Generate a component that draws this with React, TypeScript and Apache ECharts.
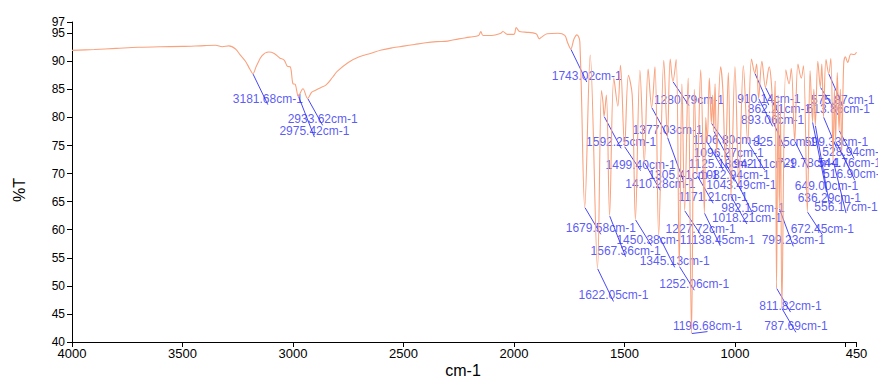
import React, { useEffect, useRef } from 'react';
import * as echarts from 'echarts';

// Baseline / shoulder points of the spectrum (wavenumber, %T)
const BG_WN = [
  4000, 3900, 3800, 3700, 3600, 3500, 3400, 3350, 3320, 3290, 3260, 3240, 3215, 3195, 3165, 3140, 3110, 3085,
  3060, 3040, 3025, 3012, 3000, 2990, 2955, 2915, 2900, 2875, 2850, 2820, 2800, 2750, 2700, 2650, 2600, 2550,
  2500, 2450, 2400, 2350, 2300, 2250, 2200, 2160, 2150, 2140, 2100, 2060, 2050, 2030, 2000, 1990, 1975, 1950,
  1900, 1885, 1875, 1850, 1800, 1770, 1758, 1728, 1715, 1702, 1655, 1604, 1597, 1582, 1548, 1530, 1518, 1482,
  1465, 1430, 1393, 1362, 1322, 1293, 1266, 1240, 1212, 1184, 1155, 1132, 1116, 1101, 1090, 1065, 1055, 1030,
  1000, 962, 925, 902, 878, 845, 835, 818, 805, 794, 770, 755, 745, 715, 700, 690, 660, 643, 625, 607, 588, 566,
  550, 537, 523, 508, 500, 490, 475, 460, 450,
];
const BG_T = [
  91.95, 92.1, 92.3, 92.5, 92.6, 92.65, 92.8, 92.85, 92.6, 92.75, 92.2, 91.2, 90.0, 88.6, 89.2, 91.0, 91.65, 91.4,
  90.6, 90.2, 89.1, 89.0, 86.0, 85.9, 85.1, 84.5, 84.8, 85.3, 85.8, 87.2, 88.2, 89.8, 90.8, 91.4, 92.0, 92.4,
  92.7, 93.0, 93.3, 93.5, 93.6, 94.0, 94.3, 94.6, 95.3, 94.6, 94.6, 95.0, 95.3, 94.8, 94.8, 96.0, 95.3, 95.2,
  94.9, 94.0, 94.3, 94.9, 95.0, 94.6, 93.4, 94.0, 94.7, 93.5, 91.1, 84.8, 82.6, 84.0, 87.0, 82.0, 89.3, 87.5,
  84.0, 88.4, 88.6, 89.0, 90.2, 90.4, 90.3, 86.0, 87.0, 85.0, 88.5, 80.0, 87.0, 84.0, 86.0, 89.0, 85.0, 88.0,
  89.0, 89.2, 90.4, 89.5, 90.0, 89.0, 86.0, 86.5, 84.0, 82.0, 88.5, 86.0, 88.7, 89.5, 87.0, 89.2, 88.3, 85.0, 90.0, 89.5, 90.3, 90.5,
  85.0, 88.0, 85.0, 89.5, 90.8, 89.8, 91.3, 91.2, 91.6,
];

// Labelled absorption peaks (wavenumber, %T)
const PEAK_WN = [
  3181.68, 2975.42, 2933.62, 1743.02, 1679.58, 1622.05, 1592.25, 1567.36, 1499.4, 1450.38, 1410.28, 1377.03,
  1345.13, 1305.41, 1280.79, 1252.06, 1227.72, 1196.68, 1171.21, 1138.45, 1125.18, 1106.8, 1096.27, 1082.94,
  1043.49, 1018.21, 982.15, 942.11, 910.14, 893.06, 862.21, 825.15, 811.82, 799.23, 787.69, 729.78, 672.45,
  649.0, 636.29, 613.86, 599.33, 575.87, 556.17, 544.76, 528.94, 516.9,
];
const PEAK_T = [
  87.8, 83.8, 83.4, 92.2, 64.0, 53.1, 80.2, 62.5, 74.8, 61.8, 72.0, 81.8,
  59.0, 76.5, 86.4, 53.5, 63.4, 41.5, 69.7, 63.0, 75.6, 79.0, 77.6, 73.6,
  71.9, 66.0, 67.8, 75.6, 87.9, 83.4, 85.4, 79.0, 49.6, 63.8, 46.0, 75.8, 63.2,
  79.2, 78.6, 85.4, 80.1, 87.8, 72.4, 75.8, 77.7, 73.8,
];

// Where each peak's annotation text sits relative to its peak (px)
const LABEL_OFFSETS = [
  [15, 25], [16, 35], [15, 21], [16, 27], [16, 21], [16, 27], [17, 26], [16, 35], [16, 18], [16, 20], [16, 22], [16, 23],
  [16, 26], [16, 38], [16, 18], [15, 18], [16, 18], [16, -8], [16, 22], [16, 27], [16, 22], [16, 17], [15, 22], [18, 22],
  [16, 22], [16, 22], [14, 22], [17, 22], [14, 26], [14, 22], [14, 22], [11, 19], [14, 18], [14, 32], [14, 18], [14, 22], [15, 17],
  [14, 64], [14, 73], [18, 22], [13, 25], [14, 26], [13, 47], [14, 22], [15, 22], [13, 22],
];

const X_TICKS = [4000, 3500, 3000, 2500, 2000, 1500, 1000, 500, 450];
const X_LABELS = [4000, 3500, 3000, 2500, 2000, 1500, 1000, 450];
const Y_TICKS = [40, 45, 50, 55, 60, 65, 70, 75, 80, 85, 90, 95, 97];
const Y_LABELS = [40, 45, 50, 55, 60, 65, 70, 75, 80, 85, 90, 95];
const Y_TOP_LABEL = [97];

const FONT = 'Liberation Sans, Arial, sans-serif';

export default function App() {
  const ref = useRef<HTMLDivElement>(null);
  useEffect(() => {
    const chart = echarts.init(ref.current as HTMLDivElement, null, { renderer: 'svg' });
    const spectrum = [
      ...BG_WN.map((w, i) => [w, BG_T[i]]),
      ...PEAK_WN.map((w, i) => [w, PEAK_T[i]]),
    ].sort((a, b) => b[0] - a[0]);
    const peaks = PEAK_WN.map((w, i) => ({
      value: [w, PEAK_T[i]],
      label: { offset: LABEL_OFFSETS[i] },
    }));
    const yLabelStyle = {
      formatter: (v: number) => String(v),
      color: '#000',
      fontSize: 12,
      fontFamily: FONT,
      margin: 7,
      showMinLabel: true,
      showMaxLabel: true,
      hideOverlap: false,
    };
    chart.setOption({
      animation: false,
      grid: { left: 72, right: 21.5, top: 22, height: 320, containLabel: false, outerBoundsMode: 'none' },
      xAxis: {
        type: 'value',
        inverse: true,
        min: 450,
        max: 4000,
        axisLine: { show: true, onZero: false, lineStyle: { color: '#000', width: 1 } },
        axisTick: { show: true, length: 5, customValues: X_TICKS, lineStyle: { color: '#000' } },
        axisLabel: {
          customValues: X_LABELS,
          formatter: (v: number) => String(v),
          color: '#000',
          fontSize: 13,
          fontFamily: FONT,
          margin: 5,
          showMinLabel: true,
          showMaxLabel: true,
          hideOverlap: false,
        },
        splitLine: { show: false },
      },
      yAxis: [
        {
          type: 'value',
          position: 'left',
          min: 40,
          max: 97,
          axisLine: { show: true, onZero: false, lineStyle: { color: '#000', width: 1 } },
          axisTick: { show: true, length: 5, customValues: Y_TICKS, lineStyle: { color: '#000' } },
          axisLabel: { ...yLabelStyle, customValues: Y_LABELS },
          splitLine: { show: false },
        },
        {
          type: 'value',
          position: 'left',
          min: 40,
          max: 97,
          axisLine: { show: false },
          axisTick: { show: false },
          axisLabel: { ...yLabelStyle, customValues: Y_TOP_LABEL },
          splitLine: { show: false },
        },
      ],
      graphic: [
        {
          type: 'text',
          x: 19,
          y: 190,
          rotation: Math.PI / 2,
          style: { text: '%T', fontSize: 16, fontFamily: FONT, fill: '#000', textAlign: 'center', textVerticalAlign: 'middle' },
        },
        {
          type: 'text',
          x: 463,
          y: 370,
          style: { text: 'cm-1', fontSize: 16, fontFamily: FONT, fill: '#000', textAlign: 'center', textVerticalAlign: 'middle' },
        },
      ],
      series: [
        {
          type: 'line',
          data: spectrum,
          symbol: 'none',
          smooth: 0.35,
          silent: true,
          lineStyle: { color: '#f9a27e', width: 1.1 },
        },
        {
          type: 'scatter',
          data: peaks,
          symbolSize: 1,
          silent: true,
          itemStyle: { color: 'rgba(0,0,0,0)' },
          label: {
            show: true,
            position: 'inside',
            formatter: (p: any) => `${p.value[0].toFixed(2)}cm-1`,
            color: '#3030f4',
            fontSize: 12,
            fontFamily: FONT,
          },
          labelLine: { show: true, lineStyle: { color: '#4848f6', width: 1 } },
        },
      ],
    });
    return () => chart.dispose();
  }, []);
  return <div ref={ref} style={{ position: 'absolute', left: 0, top: 0, width: 878, height: 378 }} />;
}
